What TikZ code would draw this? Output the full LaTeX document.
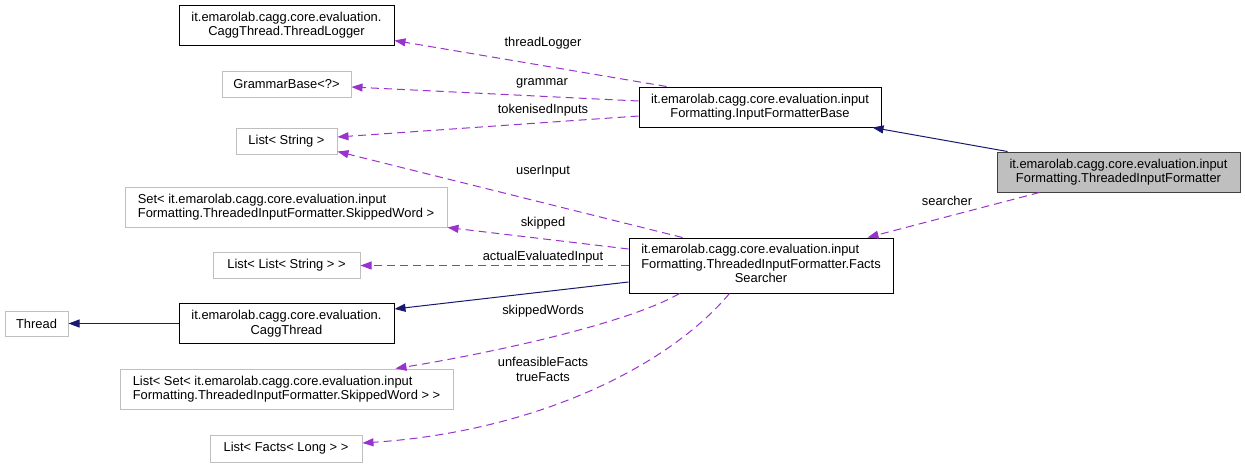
\documentclass[tikz,border=0pt]{standalone}
\usepackage{fontspec}
\setmainfont{Liberation Sans}
\usepackage{tikz}
\usetikzlibrary{arrows.meta,calc,positioning}
\definecolor{member}{RGB}{154,50,205}
\definecolor{inherit}{RGB}{25,25,112}
\definecolor{extgray}{RGB}{191,191,191}

\begin{document}
\begin{tikzpicture}[
      x=1pt, y=-1pt,
      font=\fontsize{12.9}{14.5}\selectfont,
      >={Triangle[length=11pt,width=8pt]},
      cls/.style={draw=black, line width=1pt, inner sep=0pt, align=center},
      extcls/.style={cls, draw=extgray},
      maincls/.style={cls, fill=extgray, draw=black!75},
      uses/.style={->, draw=member, dash pattern=on 8pt off 5pt, line width=1pt},
      isa/.style={->, draw=inherit, line width=1pt},
      lbl/.style={inner sep=0pt, align=center},
]
\useasboundingbox (0,0) rectangle (1245,467);

% classes
\node[cls, minimum width=215, minimum height=40] (logger) at (286.5,25) {it.emarolab.cagg.core.evaluation.\\CaggThread.ThreadLogger};
\node[extcls, minimum width=129, minimum height=26] (grammar) at (286.5,84) {GrammarBase<?>};
\node[extcls, minimum width=101, minimum height=26] (liststr) at (286.5,141) {List< String >};
\node[cls, minimum width=242, minimum height=40] (ifb) at (760,107) {it.emarolab.cagg.core.evaluation.input\\Formatting.InputFormatterBase};
\node[maincls, minimum width=243, minimum height=40] (tif) at (1118.5,172) {it.emarolab.cagg.core.evaluation.input\\Formatting.ThreadedInputFormatter};
\node[extcls, minimum width=322, minimum height=40, align=left] (setskip) at (286,207) {Set< it.emarolab.cagg.core.evaluation.input\\Formatting.ThreadedInputFormatter.SkippedWord >};
\node[extcls, minimum width=147, minimum height=26] (listlist) at (286.5,265.5) {List< List< String > >};
\node[cls, minimum width=264, minimum height=55] (searcher) at (761,265.5) {\begin{tabular}{@{}l@{}}it.emarolab.cagg.core.evaluation.input\\Formatting.ThreadedInputFormatter.Facts\\\multicolumn{1}{@{}c@{}}{Searcher}\end{tabular}};
\node[extcls, minimum width=63, minimum height=25] (thread) at (36.5,323.5) {Thread};
\node[cls, minimum width=215, minimum height=40] (cagg) at (286.5,323.5) {it.emarolab.cagg.core.evaluation.\\CaggThread};
\node[extcls, minimum width=333, minimum height=40, align=left] (listset) at (286.5,389) {List< Set< it.emarolab.cagg.core.evaluation.input\\Formatting.ThreadedInputFormatter.SkippedWord > >};
\node[extcls, minimum width=152, minimum height=27] (listfacts) at (286,448.5) {List< Facts< Long > >};

% inheritance
\draw[isa] ($(tif.north west)+(11,0)$) -- ($(ifb.south east)+(-9,0)$);
\draw[isa] ($(searcher.west)+(0,16.5)$) -- ($(cagg.east)+(0,-14.5)$);
\draw[isa] (cagg) -- (thread);

% members
\draw[uses] ($(ifb.north west)+(28,0)$) -- ($(logger.south east)+(0,-5)$);
\draw[uses] ($(ifb.west)+(0,-6)$) -- ($(grammar.east)+(0,3)$);
\draw[uses] ($(ifb.west)+(0,9)$) -- ($(liststr.east)+(0,-4)$);
\draw[uses] ($(tif.south west)+(43,0)$) -- ($(searcher.north east)+(-26,0)$);
\draw[uses] ($(searcher.north west)+(54,0)$) -- ($(liststr.south east)+(0,-3)$);
\draw[uses] ($(searcher.west)+(0,-16.5)$) -- (setskip.south east);
\draw[uses] (searcher.west) -- (listlist.east);
\draw[uses] ($(searcher.south west)+(51,0)$) .. controls (625,325) and (480,355) .. ($(listset.north east)+(-58,0)$);
\draw[uses] ($(searcher.south west)+(101,0)$) .. controls (665,370) and (530,432) .. ($(listfacts.east)+(0,-5.5)$);

% labels
\node[lbl] (l_logger) at (543,43) {threadLogger};
\node[lbl] (l_grammar) at (542,83) {grammar};
\node[lbl] (l_tokens) at (543,110) {tokenisedInputs};
\node[lbl] (l_searcher) at (947,201) {searcher};
\node[lbl] (l_input) at (543,171) {userInput};
\node[lbl] (l_skipped) at (543,223) {skipped};
\node[lbl] (l_actual) at (543,257) {actualEvaluatedInput};
\node[lbl] (l_words) at (543,311) {skippedWords};
\node[lbl] (l_facts) at (543,369.5) {unfeasibleFacts\\trueFacts};

\end{tikzpicture}
\end{document}
